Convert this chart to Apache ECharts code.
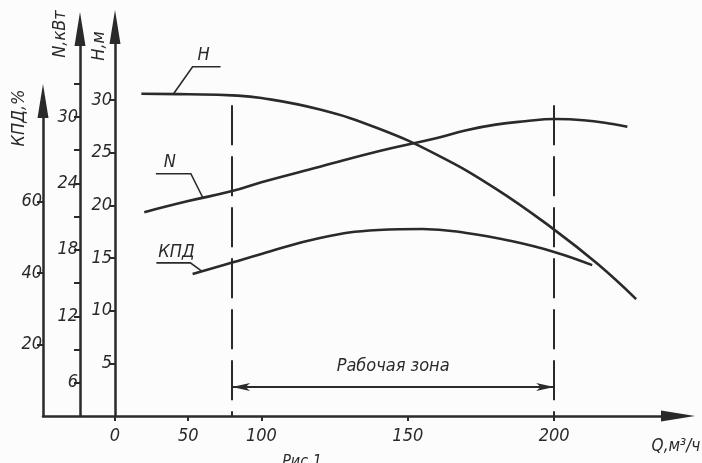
<!DOCTYPE html>
<html>
<head>
<meta charset="utf-8">
<script src="https://cdn.jsdelivr.net/npm/echarts@6/dist/echarts.min.js"></script>
<style>
html,body{margin:0;padding:0;background:#fcfcfc;}
#c{width:702px;height:463px;}
</style>
</head>
<body>
<div id="c"></div>
<script>
// ---- data ----
const qTicks = [0, 50, 100, 150, 200];
const hTicks = [5, 10, 15, 20, 25, 30];
const nTicks = [6, 9, 12, 15, 18, 21, 24, 27, 30, 33];
const nLabels = [6, 12, 18, 24, 30];
const kTicks = [20, 40, 60];

const qH = [18, 50, 80, 100, 120, 140, 160, 180, 200, 215, 228];
const hVals = [30.6, 30.55, 30.45, 30.2, 29.1, 27.3, 24.8, 21.6, 17.7, 14.4, 11.1];

const qN = [20, 50, 80, 100, 120, 140, 160, 170, 180, 190, 200, 210, 220, 225];
const nVals = [21.4, 22.4, 23.3, 24.1, 25.5, 26.9, 28.1, 28.8, 29.3, 29.6, 29.8, 29.7, 29.35, 29.1];

const qK = [53, 80, 100, 120, 140, 155, 170, 185, 200, 213];
const kVals = [39.7, 42.9, 45.3, 49.8, 52.0, 52.3, 51.2, 49.0, 45.9, 42.2];

const zoneStart = 80, zoneEnd = 200;

// the drawing's Q axis is compressed 2x between 0 and 100
const qToU = q => q <= 100 ? q / 2 : q - 50;
const uToQ = u => Math.round(u <= 50 ? u * 2 : u + 50);

const INK = '#2a2a2a';
const FONT = "'Liberation Sans Narrow', 'DejaVu Sans Condensed', 'Liberation Sans', sans-serif";
const lbl = (extra) => Object.assign({fontFamily: FONT, fontStyle: 'italic', fontSize: 18, color: INK}, extra || {});

const chart = echarts.init(document.getElementById('c'));
const G = {left: 43, right: 24, bottom: 47};
const xCommon = {type: 'value', min: -24.6, max: 192.3};

const yBase = (idx, off, min, max, ticks, labels, margin) => ({
  type: 'value', gridIndex: idx, position: 'left', offset: off, min: min, max: max,
  axisLine: {show: true, onZero: false, symbol: ['none', 'triangle'], symbolSize: [11, 34],
             lineStyle: {color: INK, width: 2.5}},
  axisTick: {show: true, length: 6, customValues: ticks, lineStyle: {color: INK, width: 2}},
  axisLabel: Object.assign(lbl({margin: margin}), {customValues: labels}),
  splitLine: {show: false}
});

const lineSeries = (name, xi, yi, q, v) => ({
  name: name, type: 'line', xAxisIndex: xi, yAxisIndex: yi, smooth: 0.45, symbol: 'none',
  lineStyle: {color: INK, width: 2.6}, silent: true,
  data: q.map((x, i) => [qToU(x), v[i]])
});

const hSeries = lineSeries('H', 0, 0, qH, hVals);
const zoneTopH = 29.5, arrowH = 2.75;
hSeries.markLine = {
  silent: true, animation: false, symbol: 'none',
  lineStyle: {color: INK, width: 2, type: [40, 11]},
  label: {show: false},
  data: [
    [{coord: [qToU(zoneStart), zoneTopH]}, {coord: [qToU(zoneStart), 0]}],
    [{coord: [qToU(zoneEnd), zoneTopH]}, {coord: [qToU(zoneEnd), 0]}],
    [{coord: [qToU(zoneStart), arrowH], symbol: 'arrow', lineStyle: {type: 'solid', width: 1.8},
      label: {show: true, position: 'middle', distance: 12, formatter: 'Рабочая зона',
              fontFamily: FONT, fontStyle: 'italic', fontSize: 18, color: INK}},
     {coord: [qToU(zoneEnd), arrowH], symbol: 'arrow'}]
  ],
  symbolSize: [6, 18]
};

chart.setOption({
  animation: false,
  backgroundColor: '#fcfcfc',
  grid: [
    Object.assign({top: 27}, G),
    Object.assign({top: 29}, G),
    Object.assign({top: 101}, G)
  ],
  xAxis: [
    Object.assign({gridIndex: 0,
      axisLine: {show: true, onZero: false, symbol: ['none', 'triangle'], symbolSize: [11, 34],
                 lineStyle: {color: INK, width: 2.5}},
      axisTick: {show: true, length: 5, customValues: qTicks.map(qToU), lineStyle: {color: INK, width: 2}},
      axisLabel: Object.assign(lbl({margin: 11}), {customValues: qTicks.map(qToU), formatter: v => String(uToQ(v))}),
      splitLine: {show: false}}, xCommon),
    Object.assign({gridIndex: 1, show: false}, xCommon),
    Object.assign({gridIndex: 2, show: false}, xCommon)
  ],
  yAxis: [
    yBase(0, -72, 0, 36.94, hTicks, hTicks, 3),
    yBase(1, -37, 3, 37.93, nTicks, nLabels, 2),
    yBase(2, 0, 0, 88.1, kTicks, kTicks, 1)
  ],
  series: [
    hSeries,
    lineSeries('N', 1, 1, qN, nVals),
    lineSeries('КПД', 2, 2, qK, kVals)
  ]
});

// annotations: leader lines attached to curve points
const px = (gi, q, v) => chart.convertToPixel({xAxisIndex: gi, yAxisIndex: gi}, [qToU(q), v]);
const aH = px(0, 40, 30.6), aN = px(1, 60, 22.7), aK = px(2, 59, 40.6);
const ln = (pts) => ({type: 'polyline', silent: true, shape: {points: pts}, style: {stroke: INK, lineWidth: 1.6, fill: null}});
const tx = (x, y, t, size, rot) => ({type: 'text', silent: true, x: x, y: y, rotation: rot || 0,
  style: {text: t, font: 'italic ' + (size || 18) + 'px ' + FONT, fill: INK, align: 'center', verticalAlign: 'middle'}});

chart.setOption({graphic: [
  ln([aH, [aH[0] + 19, aH[1] - 27], [aH[0] + 47, aH[1] - 27]]),
  tx(aH[0] + 30, aH[1] - 38, 'H'),
  ln([aN, [aN[0] - 12, aN[1] - 24], [aN[0] - 47, aN[1] - 24]]),
  tx(aN[0] - 33, aN[1] - 35, 'N'),
  ln([aK, [aK[0] - 11, aK[1] - 8], [aK[0] - 45, aK[1] - 8]]),
  tx(aK[0] - 25, aK[1] - 19, 'КПД'),
  tx(19, 118, 'КПД,%', 18, Math.PI / 2),
  tx(60, 34, 'N,кВт', 18, Math.PI / 2),
  tx(99, 46, 'H,м', 18, Math.PI / 2),
  tx(676, 447, 'Q,м³/ч', 17),
  tx(302, 462, 'Рис.1', 16)
]});
</script>
</body>
</html>
